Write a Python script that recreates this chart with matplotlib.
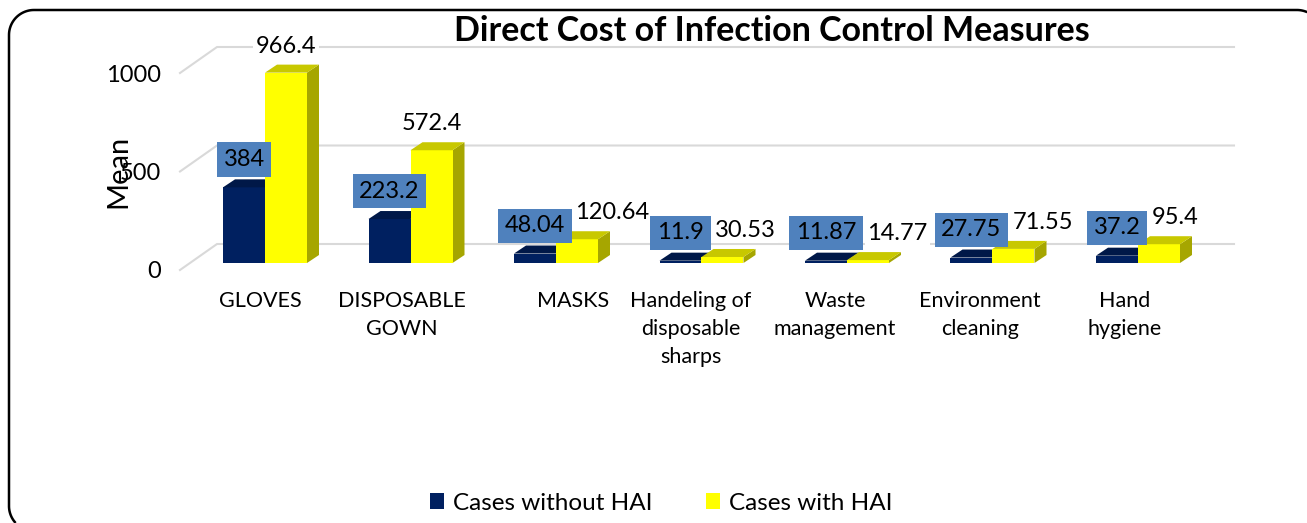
import numpy as np
import matplotlib.pyplot as plt
from matplotlib.patches import Polygon, Patch
from matplotlib.lines import Line2D
from matplotlib.transforms import IdentityTransform, ScaledTranslation

plt.rcParams["font.family"] = ["Lato", "DejaVu Sans"]

# ── Data ─────────────────────────────────────────────────────────────────────
categories = ["GLOVES", "DISPOSABLE\nGOWN", "MASKS", "Handeling of\ndisposable\nsharps",
              "Waste\nmanagement", "Environment\ncleaning", "Hand\nhygiene"]
without_hai = [384, 223.2, 48.04, 11.9, 11.87, 27.75, 37.2]
with_hai = [966.4, 572.4, 120.64, 30.53, 14.77, 71.55, 95.4]
without_labels = ["384", "223.2", "48.04", "11.9", "11.87", "27.75", "37.2"]
with_labels = ["966.4", "572.4", "120.64", "30.53", "14.77", "71.55", "95.4"]
series_names = ["Cases without HAI", "Cases with HAI"]
y_ticks = [0, 500, 1000]

# ── Layout (pixels) ──────────────────────────────────────────────────────────
W, H, DPI = 1307, 523, 100
ux, uy = 145.5, 0.197             # px per category / px per value unit
x_first = 265                      # px of first group centre
depth_full = (37 / ux, 26 / uy)    # back wall offset in data units
bar_base = 7 / uy                  # bars sit slightly behind the front plane
bar_depth = (12 / ux, 8 / uy)
bar_w = 42 / ux
with_dx = [0, 0, 25, 16.5, 21, 21.5, 11.5]      # label nudges (pt)
cat_dx = [-5, -9, 17, -11, -12, -12.5, -13]     # tick label nudges (px)

NAVY, NAVY_TOP = "#002060", "#001848"
YEL, YEL_TOP, YEL_SIDE = "#FFFF00", "#C8C800", "#A6A600"
GRID = "#D9D9D9"

fig = plt.figure(figsize=(W / DPI, H / DPI), dpi=DPI)
ax_l, ax_r, ax_b, ax_t = 180, 1197, 270, 73
ax = fig.add_axes([ax_l / W, 1 - ax_b / H, (ax_r - ax_l) / W, (ax_b - ax_t) / H])
ax.set_xlim((ax_l - x_first) / ux, (ax_r - x_first) / ux)
ax.set_ylim(0, 1000)
for s in ax.spines.values():
    s.set_visible(False)

# gridlines with a perspective side wall
x0 = ax.get_xlim()[0]
x_back_end = (1234 - x_first) / ux
for v in y_ticks:
    ax.plot([x0, x0 + depth_full[0], x_back_end], [v, v + depth_full[1], v + depth_full[1]],
            color=GRID, lw=1.5, clip_on=False, zorder=0)

x = np.arange(len(categories))


def draw_bar(xl, val, front, top, side=None):
    ax.bar(xl, val, width=bar_w, bottom=bar_base, align="edge", color=front,
           clip_on=False, zorder=3)
    t = bar_base + val
    dx, dy = bar_depth
    ax.add_patch(Polygon([(xl, t), (xl + bar_w, t), (xl + bar_w + dx, t + dy), (xl + dx, t + dy)],
                         closed=True, facecolor=top, edgecolor="none", clip_on=False, zorder=3))
    if side:
        xr = xl + bar_w
        ax.add_patch(Polygon([(xr, bar_base), (xr, t), (xr + dx, t + dy), (xr + dx, bar_base + dy)],
                             closed=True, facecolor=side, edgecolor="none", clip_on=False, zorder=2))


for i in x:
    draw_bar(i - bar_w, without_hai[i], NAVY, NAVY_TOP)
    draw_bar(i, with_hai[i], YEL, YEL_TOP, YEL_SIDE)

# data labels
for i in x:
    ax.annotate(without_labels[i], (i - bar_w / 2, bar_base + without_hai[i]),
                xytext=(0, 20), textcoords="offset points", ha="center", va="center",
                fontsize=17, zorder=6,
                bbox=dict(boxstyle="square,pad=0.28", facecolor="#4F81BD", edgecolor="none"))
    ax.annotate(with_labels[i], (i + bar_w / 2, bar_base + with_hai[i]),
                xytext=(with_dx[i], 19), textcoords="offset points", ha="center", va="center",
                fontsize=17, zorder=5,
                bbox=dict(boxstyle="square,pad=0.1", facecolor="white", edgecolor="none"))

ax.set_xticks(x, categories, fontsize=15.5, linespacing=1.5)
ax.set_yticks(y_ticks, [str(v) for v in y_ticks], fontsize=17)
ax.tick_params(axis="x", length=0, pad=15)
ax.tick_params(axis="y", length=0, pad=14)
for lbl, d in zip(ax.get_xticklabels(), cat_dx):
    lbl.set_transform(lbl.get_transform() + ScaledTranslation(d / DPI, 0, fig.dpi_scale_trans))
ax.set_ylabel("Mean", fontsize=21, va="center")
ax.yaxis.set_label_coords((118 - ax_l) / (ax_r - ax_l), 0.5)

fig.text(772 / W, 1 - 41 / H, "Direct Cost of Infection Control Measures",
         ha="center", va="baseline", fontsize=24.5, fontweight="bold")

handles = [Patch(facecolor=NAVY), Patch(facecolor=YEL)]
fig.legend(handles, series_names, loc="center", bbox_to_anchor=(661 / W, 1 - 503 / H),
           ncol=2, frameon=False, fontsize=17.5, handlelength=0.6, handleheight=0.6,
           handletextpad=0.35, columnspacing=2.2)

# rounded chart border, kept inside the canvas (left/top sides + cut corners)
bl, bt, br, bb, r = 9, H - 10, 1322, -8, 25


def arc(cx, cy, a0, a1):
    a = np.radians(np.linspace(a0, a1, 30))
    return cx + r * np.cos(a), cy + r * np.sin(a)


a_bot = 180 + np.degrees(np.arcsin((bb + r - 1) / r))
a_right = np.degrees(np.arccos((W - 1 - (br - r)) / r))
segs = [arc(bl + r, bb + r, a_bot, 180), arc(bl + r, bt - r, 180, 90),
        arc(br - r, bt - r, 90, a_right)]
bx = np.concatenate([s[0] for s in segs])
by = np.concatenate([s[1] for s in segs])
fig.add_artist(Line2D(bx, by, transform=IdentityTransform(), color="black", lw=1.8))

fig.savefig("out.png", dpi=DPI)
